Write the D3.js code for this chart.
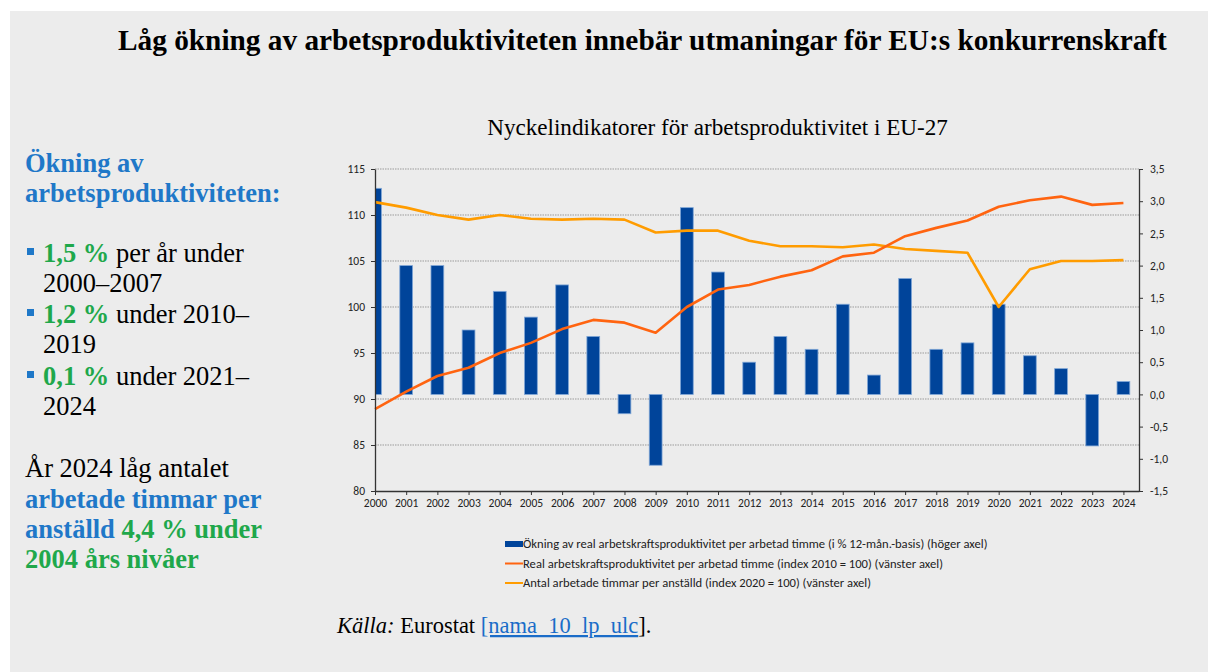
<!DOCTYPE html>
<html>
<head>
<meta charset="utf-8">
<script src="https://cdn.jsdelivr.net/npm/d3@7"></script>
<style>
  body { margin: 0; background: #fff; }
  svg { display: block; }
</style>
</head>
<body>
<svg id="chart" width="1208" height="672"></svg>
<script>
// Data (EU-27)
const years = [2000, 2001, 2002, 2003, 2004, 2005, 2006, 2007, 2008, 2009, 2010, 2011, 2012,
    2013, 2014, 2015, 2016, 2017, 2018, 2019, 2020, 2021, 2022, 2023, 2024];
// growth of real labour productivity per hour worked, % (right axis)
const growth = [3.2, 2.0, 2.0, 1.0, 1.6, 1.2, 1.7, 0.9, -0.3, -1.1, 2.9, 1.9, 0.5,
    0.9, 0.7, 1.4, 0.3, 1.8, 0.7, 0.8, 1.4, 0.6, 0.4, -0.8, 0.2];
// real labour productivity per hour worked, index 2010 = 100 (left axis)
const productivity = [88.9, 90.8, 92.5, 93.4, 95.0, 96.1, 97.6, 98.6, 98.3, 97.2, 100.0, 101.9, 102.4,
    103.3, 104.0, 105.5, 105.9, 107.7, 108.6, 109.4, 110.9, 111.6, 112.0, 111.1, 111.3];
// hours worked per employee, index 2020 = 100 (left axis)
const hours = [111.4, 110.8, 110.0, 109.5, 110.0, 109.6, 109.5, 109.6, 109.5, 108.1, 108.3, 108.3, 107.2,
    106.6, 106.6, 106.5, 106.8, 106.3, 106.1, 105.9, 100.0, 104.1, 105.0, 105.0, 105.1];

const leftTicks = [80, 85, 90, 95, 100, 105, 110, 115];
const rightTicks = [-1.5, -1.0, -0.5, 0, 0.5, 1.0, 1.5, 2.0, 2.5, 3.0, 3.5];

const legendLabels = [
    'Ökning av real arbetskraftsproduktivitet per arbetad timme (i % 12-mån.-basis) (höger axel)',
    'Real arbetskraftsproduktivitet per arbetad timme (index 2010 = 100) (vänster axel)',
    'Antal arbetade timmar per anställd (index 2020 = 100) (vänster axel)'
];

const COLORS = {
    bar: '#00449a',
    barEdge: '#7fa6d6',
    prod: '#ff6410',
    hours: '#ff9c00',
    blue: '#1f78c8',
    green: '#1fa84b',
    bg: '#ececec'
};

const svg = d3.select('#chart');
const serif = "'Liberation Serif', 'Times New Roman', serif";
const sans = "Calibri, Carlito, Lato, 'Liberation Sans', Arial, sans-serif";

// background panel
svg.append('rect').attr('x', 10).attr('y', 11).attr('width', 1198).attr('height', 661).attr('fill', COLORS.bg);

// headline
svg.append('text')
    .attr('x', 118).attr('y', 50)
    .attr('font-family', serif).attr('font-weight', 'bold').attr('font-size', 29.3)
    .attr('fill', '#000')
    .text('Låg ökning av arbetsproduktiviteten innebär utmaningar för EU:s konkurrenskraft');

// left side text panel
function line(y, parts, x = 25) {
    const t = svg.append('text').attr('x', x).attr('y', y)
        .attr('font-family', serif).attr('font-size', 26.5);
    parts.forEach(p => {
        t.append('tspan').attr('fill', p.c || '#000')
            .attr('font-weight', p.b ? 'bold' : 'normal').text(p.t);
    });
}
line(172, [{ t: 'Ökning av', c: COLORS.blue, b: true }]);
line(202, [{ t: 'arbetsproduktiviteten:', c: COLORS.blue, b: true }]);
[262, 323, 385].forEach(y => {
    svg.append('rect').attr('x', 27).attr('y', y - 14).attr('width', 7).attr('height', 7).attr('fill', COLORS.blue);
});
line(262, [{ t: '1,5 %', c: COLORS.green, b: true }, { t: ' per år under' }], 43);
line(292, [{ t: '2000–2007' }], 43);
line(323, [{ t: '1,2 %', c: COLORS.green, b: true }, { t: ' under 2010–' }], 43);
line(353, [{ t: '2019' }], 43);
line(385, [{ t: '0,1 %', c: COLORS.green, b: true }, { t: ' under 2021–' }], 43);
line(415, [{ t: '2024' }], 43);
line(477, [{ t: 'År 2024 låg antalet' }]);
line(508, [{ t: 'arbetade timmar per', c: COLORS.blue, b: true }]);
line(538, [{ t: 'anställd ', c: COLORS.blue, b: true }, { t: '4,4 % under', c: COLORS.green, b: true }]);
line(568, [{ t: '2004 års nivåer', c: COLORS.green, b: true }]);

// chart title
svg.append('text')
    .attr('x', 717.5).attr('y', 135).attr('text-anchor', 'middle')
    .attr('font-family', serif).attr('font-size', 23.1).attr('fill', '#000')
    .text('Nyckelindikatorer för arbetsproduktivitet i EU-27');

// plot area
const plot = { left: 375, right: 1139, top: 169, bottom: 491 };

const x = d3.scaleLinear().domain([2000, 2024.5]).range([plot.left, plot.right]);
const yL = d3.scaleLinear().domain([80, 115]).range([plot.bottom, plot.top]);
const yR = d3.scaleLinear().domain([-1.5, 3.5]).range([plot.bottom, plot.top]);
const step = x(2001) - x(2000);
const barW = step * 0.41;

svg.append('clipPath').attr('id', 'plotclip')
    .append('rect').attr('x', plot.left).attr('y', plot.top - 5)
    .attr('width', plot.right - plot.left).attr('height', plot.bottom - plot.top + 10);

// dotted grid lines (left axis)
svg.append('g').selectAll('line').data(leftTicks.filter(d => d > 80)).enter().append('line')
    .attr('x1', plot.left).attr('x2', plot.right)
    .attr('y1', d => yL(d)).attr('y2', d => yL(d))
    .attr('stroke', '#9a9a9a').attr('stroke-width', 1).attr('stroke-dasharray', '1.5,1');

// bars, growth on right axis
svg.append('g').attr('clip-path', 'url(#plotclip)')
    .selectAll('rect').data(years).enter().append('rect')
    .attr('x', d => x(d) - barW / 2)
    .attr('width', barW)
    .attr('y', (d, i) => Math.min(yR(growth[i]), yR(0)))
    .attr('height', (d, i) => Math.abs(yR(growth[i]) - yR(0)))
    .attr('fill', COLORS.bar).attr('stroke', COLORS.barEdge).attr('stroke-width', 0.8);

// lines
const lineGen = vals => d3.line().x((d, i) => x(years[i])).y(d => yL(d))(vals);
svg.append('path').attr('d', lineGen(hours))
    .attr('fill', 'none').attr('stroke', COLORS.hours).attr('stroke-width', 2.6).attr('stroke-linejoin', 'round');
svg.append('path').attr('d', lineGen(productivity))
    .attr('fill', 'none').attr('stroke', COLORS.prod).attr('stroke-width', 2.6).attr('stroke-linejoin', 'round');

// axes
const leftAxis = svg.append('g').attr('transform', `translate(${plot.left},0)`)
    .call(d3.axisLeft(yL).tickValues(leftTicks).tickSize(4).tickPadding(6).tickSizeOuter(0));
const rightAxis = svg.append('g').attr('transform', `translate(${plot.right},0)`)
    .call(d3.axisRight(yR).tickValues(rightTicks).tickSize(4).tickPadding(7).tickSizeOuter(0)
        .tickFormat(d => d3.format('.1f')(d).replace('.', ',').replace('−', '-')));
const bottomAxis = svg.append('g').attr('transform', `translate(0,${plot.bottom})`)
    .call(d3.axisBottom(x).tickValues(years).tickSize(4).tickPadding(4).tickSizeOuter(0)
        .tickFormat(d3.format('d')));

[leftAxis, rightAxis, bottomAxis].forEach(g => {
    g.selectAll('.domain').attr('stroke', '#333').attr('stroke-width', 1.3);
    g.selectAll('.tick line').attr('stroke', '#333');
    g.selectAll('text').attr('font-family', sans).attr('fill', '#222').attr('font-size', 11.5);
});

// legend
const legend = svg.append('g').attr('transform', 'translate(505,0)');
const legendY = [544, 563.5, 583];
legend.append('rect').attr('x', 0).attr('y', legendY[0] - 3).attr('width', 18).attr('height', 6).attr('fill', COLORS.bar);
legend.append('line').attr('x1', 0).attr('x2', 18).attr('y1', legendY[1]).attr('y2', legendY[1])
    .attr('stroke', COLORS.prod).attr('stroke-width', 2);
legend.append('line').attr('x1', 0).attr('x2', 18).attr('y1', legendY[2]).attr('y2', legendY[2])
    .attr('stroke', COLORS.hours).attr('stroke-width', 2);
legend.selectAll('text').data(legendLabels).enter().append('text')
    .attr('x', 18).attr('y', (d, i) => legendY[i]).attr('dy', '0.35em')
    .attr('font-family', sans).attr('font-size', 12.6).attr('fill', '#222')
    .text(d => d);

// source line
const src = svg.append('text').attr('x', 337).attr('y', 633)
    .attr('font-family', serif).attr('font-size', 22.5).attr('fill', '#000');
src.append('tspan').attr('font-style', 'italic').text('Källa:');
src.append('tspan').text(' Eurostat ');
src.append('tspan').attr('fill', '#1a6cc8').attr('text-decoration', 'underline').text('[nama_10_lp_ulc');
src.append('tspan').text('].');
</script>
</body>
</html>
